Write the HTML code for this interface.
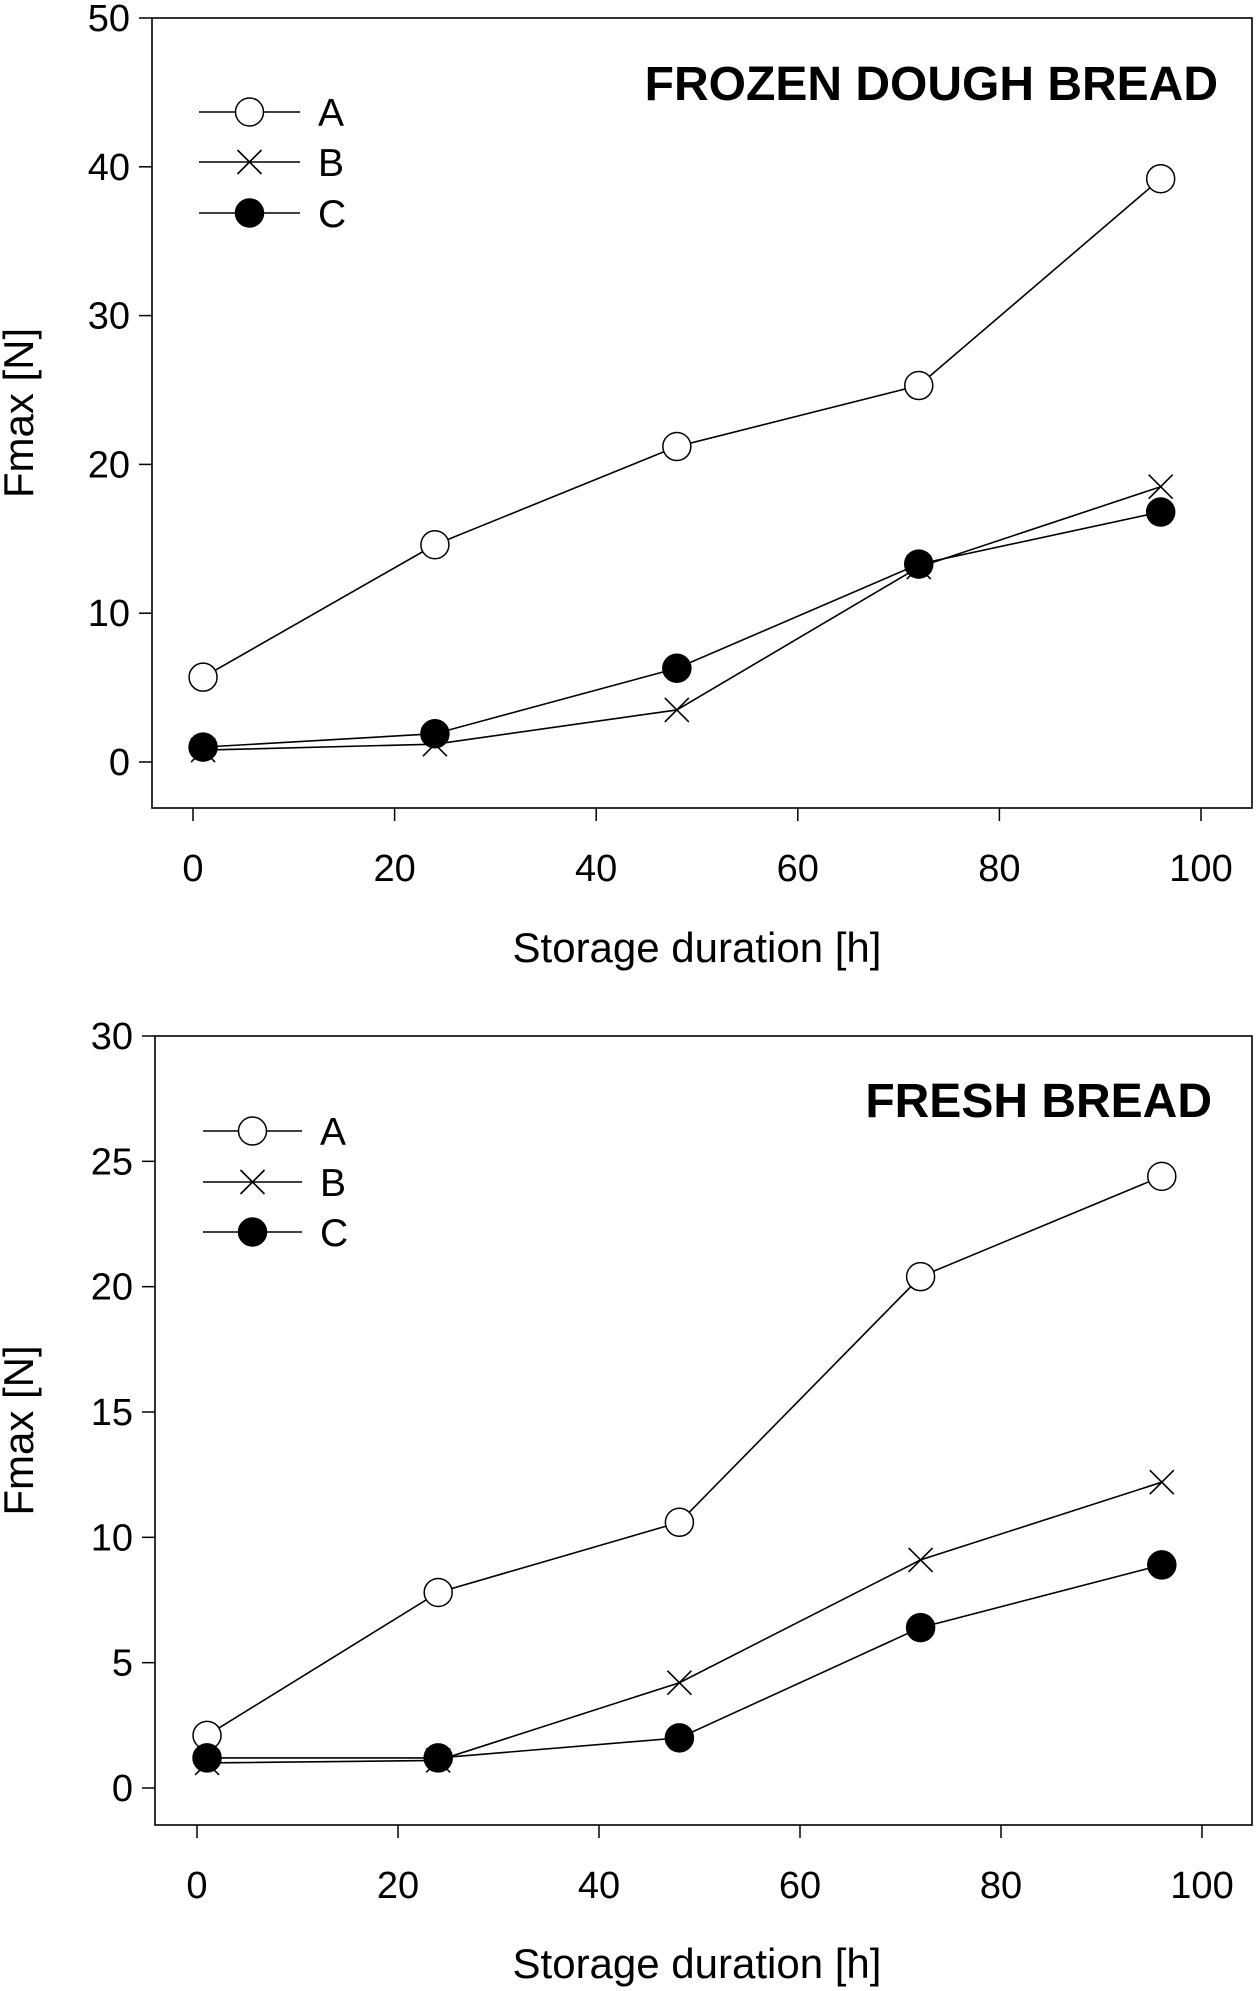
<!DOCTYPE html>
<html><head><meta charset="utf-8"><style>
html,body{margin:0;padding:0;background:#fff;}
svg{display:block;font-family:"Liberation Sans",Arial,sans-serif;}
</style></head><body>
<svg id="fig" width="1256" height="1991" viewBox="0 0 1256 1991"></svg>
<script>
const xValues = [1, 24, 48, 72, 96];
const seriesNames = ["A", "B", "C"];
const frozenA = [5.7, 14.6, 21.2, 25.3, 39.2];
const frozenB = [0.8, 1.2, 3.5, 13.1, 18.5];
const frozenC = [1.0, 1.9, 6.3, 13.3, 16.8];
const freshA = [2.1, 7.8, 10.6, 20.4, 24.4];
const freshB = [1.0, 1.1, 4.2, 9.1, 12.2];
const freshC = [1.2, 1.2, 2.0, 6.4, 8.9];
const xTicks = [0, 20, 40, 60, 80, 100];
const frozenYTicks = [0, 10, 20, 30, 40, 50];
const freshYTicks = [0, 5, 10, 15, 20, 25, 30];

const NS = "http://www.w3.org/2000/svg";
const svg = document.getElementById("fig");
function mk(tag, attrs, parent) {
  const e = document.createElementNS(NS, tag);
  for (const k in attrs) e.setAttribute(k, attrs[k]);
  (parent || svg).appendChild(e);
  return e;
}

function drawMarker(g, kind, cx, cy) {
  let m;
  if (kind === "A") {
    m = mk("circle", {cx: cx, cy: cy, r: 14, fill: "#fff", stroke: "#000", "stroke-width": 1.5}, g);
  } else if (kind === "C") {
    m = mk("circle", {cx: cx, cy: cy, r: 14, fill: "#000", stroke: "#000", "stroke-width": 1.5}, g);
  } else {
    const s = 12;
    m = mk("path", {d: `M${cx-s},${cy-s}L${cx+s},${cy+s}M${cx-s},${cy+s}L${cx+s},${cy-s}`, stroke: "#000", "stroke-width": 1.6, fill: "none"}, g);
  }
  return m;
}

function chart(cfg) {
  const g = mk("g", {});
  
  
  const X = v => cfg.x0 + (v - 0) / 100 * (cfg.x100 - cfg.x0);
  const Y = v => cfg.y0 + v / cfg.yMax * (cfg.yTop - cfg.y0);
  const box = mk("rect", {x: cfg.left, y: cfg.top, width: cfg.right - cfg.left, height: cfg.bottom - cfg.top, fill: "none", stroke: "#000", "stroke-width": 1.6}, g);
  
  
  xTicks.forEach(t => {
    const tk = mk("line", {x1: X(t), x2: X(t), y1: cfg.bottom, y2: cfg.bottom + 13, stroke: "#000", "stroke-width": 1.5}, g);
    
    
    const lb = mk("text", {x: X(t), y: cfg.bottom + 73, "text-anchor": "middle", "font-size": 38}, g);
    lb.textContent = t;
    
    
  });
  cfg.yTicks.forEach(t => {
    const tk = mk("line", {x1: cfg.left - 13, x2: cfg.left, y1: Y(t), y2: Y(t), stroke: "#000", "stroke-width": 1.5}, g);
    
    
    const lb = mk("text", {x: cfg.left - 22, y: Y(t) + 13, "text-anchor": "end", "font-size": 38}, g);
    lb.textContent = t;
    
    
  });
  const xt = mk("text", {x: 697, y: cfg.xTitleY, "text-anchor": "middle", "font-size": 42}, g);
  xt.textContent = "Storage duration [h]";
  
  
  const yt = mk("text", {x: 0, y: 0, "text-anchor": "middle", "font-size": 42, transform: `translate(33,${(cfg.top + cfg.bottom) / 2}) rotate(-90)`}, g);
  yt.textContent = "Fmax [N]";
  
  
  const tt = mk("text", {x: cfg.titleX, y: cfg.titleY, "text-anchor": "end", "font-size": 48, "font-weight": "bold"}, g);
  tt.textContent = cfg.title;
  
  
  cfg.series.forEach((vals, si) => {
    const sg = mk("g", {}, g);
    
    
    const d = vals.map((v, i) => (i ? "L" : "M") + X(xValues[i]) + "," + Y(v)).join("");
    const ln = mk("path", {d: d, fill: "none", stroke: "#000", "stroke-width": 1.6}, sg);
    
    
    vals.forEach((v, i) => {
      const m = drawMarker(sg, seriesNames[si], X(xValues[i]), Y(v));
      
      
    });
  });
  const lg = mk("g", {}, g);
  
  
  seriesNames.forEach((n, i) => {
    const y = cfg.legY[i];
    const ln = mk("line", {x1: cfg.legX1, x2: cfg.legX2, y1: y, y2: y, stroke: "#000", "stroke-width": 1.6}, lg);
    
    
    const m = drawMarker(lg, n, (cfg.legX1 + cfg.legX2) / 2, y);
    
    
    const t = mk("text", {x: cfg.legX2 + 18, y: y + 14, "font-size": 39}, lg);
    t.textContent = n;
    
    
  });
}

chart({name: "frozen-dough-chart", left: 152, right: 1252, top: 18, bottom: 808,
  x0: 193, x100: 1201, y0: 762, yTop: 18, yMax: 50, yTicks: frozenYTicks,
  series: [frozenA, frozenB, frozenC], title: "FROZEN DOUGH BREAD", titleX: 1218, titleY: 100,
  xTitleY: 962, legY: [112, 162, 213], legX1: 199, legX2: 300});
chart({name: "fresh-bread-chart", left: 155, right: 1252, top: 1036, bottom: 1825,
  x0: 197, x100: 1202, y0: 1788, yTop: 1036, yMax: 30, yTicks: freshYTicks,
  series: [freshA, freshB, freshC], title: "FRESH BREAD", titleX: 1212, titleY: 1117,
  xTitleY: 1978, legY: [1131, 1182, 1232], legX1: 203, legX2: 302});
</script>
</body></html>
